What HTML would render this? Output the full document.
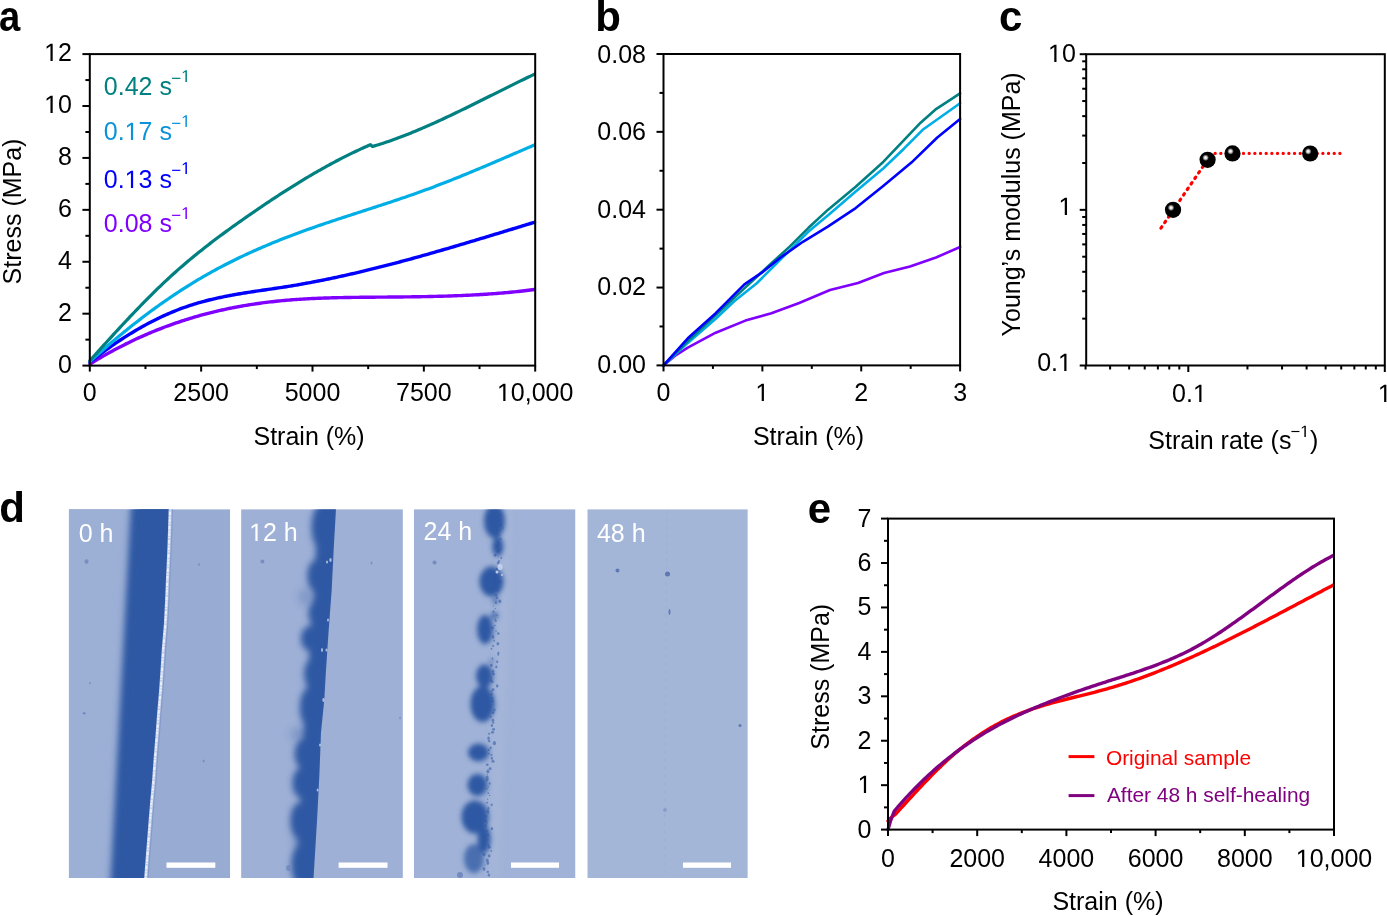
<!DOCTYPE html>
<html><head><meta charset="utf-8"><style>
html,body{margin:0;padding:0;background:#fff;width:1387px;height:916px;overflow:hidden}
svg{display:block;will-change:transform}
text{font-family:"Liberation Sans", sans-serif}
</style></head><body>
<svg width="1387" height="916" viewBox="0 0 1387 916" font-family='"Liberation Sans", sans-serif'>
<rect width="100%" height="100%" fill="#fff"/>
<text transform="translate(-0.9,31.0) scale(0.91,1)" font-size="42" font-weight="bold">a</text>
<text x="595.30" y="31.00" font-size="42" text-anchor="start" fill="#000" font-weight="bold" >b</text>
<text x="999.10" y="30.80" font-size="42" text-anchor="start" fill="#000" font-weight="bold" >c</text>
<text x="-0.80" y="522.30" font-size="42" text-anchor="start" fill="#000" font-weight="bold" >d</text>
<text x="807.80" y="522.50" font-size="42" text-anchor="start" fill="#000" font-weight="bold" >e</text>
<path d="M90.00,364.02 L92.00,362.78 L94.00,361.55 L96.01,360.35 L98.01,359.15 L100.01,357.97 L102.01,356.81 L104.02,355.65 L106.02,354.52 L108.02,353.39 L110.02,352.28 L112.02,351.19 L114.03,350.10 L116.03,349.03 L118.03,347.98 L120.03,346.94 L122.04,345.91 L124.04,344.89 L126.04,343.89 L128.04,342.90 L130.05,341.93 L132.05,340.96 L134.05,340.02 L136.05,339.08 L138.05,338.16 L140.06,337.24 L142.06,336.35 L144.06,335.46 L146.06,334.59 L148.07,333.73 L150.07,332.88 L152.07,332.04 L154.07,331.22 L156.07,330.41 L158.08,329.61 L160.08,328.82 L162.08,328.05 L164.08,327.28 L166.09,326.53 L168.09,325.79 L170.09,325.06 L172.09,324.35 L174.09,323.64 L176.10,322.95 L178.10,322.27 L180.10,321.60 L182.10,320.94 L184.11,320.29 L186.11,319.65 L188.11,319.02 L190.11,318.41 L192.11,317.80 L194.12,317.21 L196.12,316.63 L198.12,316.06 L200.12,315.49 L202.13,314.94 L204.13,314.40 L206.13,313.87 L208.13,313.35 L210.14,312.84 L212.14,312.34 L214.14,311.85 L216.14,311.37 L218.14,310.90 L220.15,310.44 L222.15,309.99 L224.15,309.55 L226.15,309.12 L228.16,308.70 L230.16,308.29 L232.16,307.89 L234.16,307.49 L236.16,307.11 L238.17,306.73 L240.17,306.37 L242.17,306.01 L244.17,305.66 L246.18,305.33 L248.18,305.00 L250.18,304.67 L252.18,304.36 L254.18,304.06 L256.19,303.76 L258.19,303.48 L260.19,303.20 L262.19,302.93 L264.20,302.67 L266.20,302.41 L268.20,302.17 L270.20,301.93 L272.20,301.70 L274.21,301.48 L276.21,301.27 L278.21,301.06 L280.21,300.86 L282.22,300.67 L284.22,300.48 L286.22,300.31 L288.22,300.14 L290.23,299.97 L292.23,299.82 L294.23,299.66 L296.23,299.52 L298.23,299.38 L300.24,299.25 L302.24,299.12 L304.24,299.00 L306.24,298.89 L308.25,298.78 L310.25,298.67 L312.25,298.57 L314.25,298.48 L316.25,298.39 L318.26,298.30 L320.26,298.22 L322.26,298.14 L324.26,298.07 L326.27,298.00 L328.27,297.94 L330.27,297.88 L332.27,297.82 L334.27,297.76 L336.28,297.71 L338.28,297.67 L340.28,297.62 L342.28,297.58 L344.29,297.54 L346.29,297.51 L348.29,297.47 L350.29,297.44 L352.30,297.41 L354.30,297.38 L356.30,297.36 L358.30,297.33 L360.30,297.31 L362.31,297.29 L364.31,297.27 L366.31,297.25 L368.31,297.23 L370.32,297.22 L372.32,297.20 L374.32,297.18 L376.32,297.17 L378.32,297.15 L380.33,297.14 L382.33,297.12 L384.33,297.10 L386.33,297.09 L388.34,297.07 L390.34,297.05 L392.34,297.04 L394.34,297.02 L396.34,297.00 L398.35,296.98 L400.35,296.96 L402.35,296.94 L404.35,296.92 L406.36,296.90 L408.36,296.87 L410.36,296.85 L412.36,296.82 L414.36,296.79 L416.37,296.76 L418.37,296.73 L420.37,296.70 L422.37,296.66 L424.38,296.63 L426.38,296.59 L428.38,296.55 L430.38,296.51 L432.39,296.46 L434.39,296.42 L436.39,296.37 L438.39,296.32 L440.39,296.26 L442.40,296.21 L444.40,296.15 L446.40,296.09 L448.40,296.02 L450.41,295.96 L452.41,295.89 L454.41,295.81 L456.41,295.74 L458.41,295.66 L460.42,295.58 L462.42,295.49 L464.42,295.40 L466.42,295.31 L468.43,295.22 L470.43,295.12 L472.43,295.01 L474.43,294.91 L476.43,294.80 L478.44,294.68 L480.44,294.56 L482.44,294.44 L484.44,294.31 L486.45,294.18 L488.45,294.05 L490.45,293.91 L492.45,293.76 L494.45,293.62 L496.46,293.46 L498.46,293.30 L500.46,293.14 L502.46,292.97 L504.47,292.80 L506.47,292.62 L508.47,292.44 L510.47,292.25 L512.48,292.06 L514.48,291.86 L516.48,291.65 L518.48,291.44 L520.48,291.23 L522.49,291.01 L524.49,290.78 L526.49,290.55 L528.49,290.31 L530.50,290.06 L532.50,289.81 L534.50,289.55" fill="none" stroke="#8000ff" stroke-width="3.4" stroke-linejoin="round" stroke-linecap="round"/>
<path d="M90.00,361.99 L92.00,360.43 L94.00,358.88 L96.01,357.35 L98.01,355.84 L100.01,354.34 L102.01,352.86 L104.02,351.39 L106.02,349.94 L108.02,348.51 L110.02,347.10 L112.02,345.70 L114.03,344.32 L116.03,342.96 L118.03,341.61 L120.03,340.28 L122.04,338.97 L124.04,337.68 L126.04,336.40 L128.04,335.14 L130.05,333.90 L132.05,332.68 L134.05,331.48 L136.05,330.29 L138.05,329.12 L140.06,327.97 L142.06,326.84 L144.06,325.73 L146.06,324.63 L148.07,323.56 L150.07,322.50 L152.07,321.46 L154.07,320.44 L156.07,319.44 L158.08,318.46 L160.08,317.50 L162.08,316.56 L164.08,315.63 L166.09,314.73 L168.09,313.85 L170.09,312.98 L172.09,312.14 L174.09,311.31 L176.10,310.51 L178.10,309.72 L180.10,308.96 L182.10,308.21 L184.11,307.49 L186.11,306.79 L188.11,306.10 L190.11,305.44 L192.11,304.79 L194.12,304.17 L196.12,303.56 L198.12,302.97 L200.12,302.39 L202.13,301.83 L204.13,301.29 L206.13,300.77 L208.13,300.25 L210.14,299.76 L212.14,299.28 L214.14,298.81 L216.14,298.35 L218.14,297.91 L220.15,297.47 L222.15,297.05 L224.15,296.64 L226.15,296.25 L228.16,295.86 L230.16,295.48 L232.16,295.11 L234.16,294.75 L236.16,294.39 L238.17,294.05 L240.17,293.71 L242.17,293.38 L244.17,293.05 L246.18,292.73 L248.18,292.41 L250.18,292.10 L252.18,291.79 L254.18,291.49 L256.19,291.19 L258.19,290.89 L260.19,290.60 L262.19,290.30 L264.20,290.01 L266.20,289.72 L268.20,289.42 L270.20,289.13 L272.20,288.83 L274.21,288.54 L276.21,288.24 L278.21,287.94 L280.21,287.64 L282.22,287.33 L284.22,287.02 L286.22,286.71 L288.22,286.39 L290.23,286.06 L292.23,285.73 L294.23,285.40 L296.23,285.06 L298.23,284.72 L300.24,284.37 L302.24,284.01 L304.24,283.66 L306.24,283.29 L308.25,282.92 L310.25,282.55 L312.25,282.17 L314.25,281.79 L316.25,281.41 L318.26,281.02 L320.26,280.62 L322.26,280.22 L324.26,279.82 L326.27,279.41 L328.27,279.00 L330.27,278.58 L332.27,278.16 L334.27,277.74 L336.28,277.31 L338.28,276.88 L340.28,276.44 L342.28,276.00 L344.29,275.56 L346.29,275.11 L348.29,274.66 L350.29,274.21 L352.30,273.75 L354.30,273.28 L356.30,272.82 L358.30,272.35 L360.30,271.88 L362.31,271.40 L364.31,270.92 L366.31,270.44 L368.31,269.95 L370.32,269.46 L372.32,268.97 L374.32,268.47 L376.32,267.97 L378.32,267.47 L380.33,266.96 L382.33,266.45 L384.33,265.94 L386.33,265.43 L388.34,264.91 L390.34,264.39 L392.34,263.87 L394.34,263.34 L396.34,262.81 L398.35,262.28 L400.35,261.75 L402.35,261.21 L404.35,260.67 L406.36,260.13 L408.36,259.59 L410.36,259.04 L412.36,258.49 L414.36,257.94 L416.37,257.39 L418.37,256.83 L420.37,256.27 L422.37,255.71 L424.38,255.15 L426.38,254.59 L428.38,254.02 L430.38,253.45 L432.39,252.88 L434.39,252.31 L436.39,251.74 L438.39,251.16 L440.39,250.58 L442.40,250.01 L444.40,249.42 L446.40,248.84 L448.40,248.26 L450.41,247.67 L452.41,247.09 L454.41,246.50 L456.41,245.91 L458.41,245.32 L460.42,244.72 L462.42,244.13 L464.42,243.54 L466.42,242.94 L468.43,242.34 L470.43,241.74 L472.43,241.14 L474.43,240.54 L476.43,239.94 L478.44,239.34 L480.44,238.74 L482.44,238.13 L484.44,237.53 L486.45,236.92 L488.45,236.32 L490.45,235.71 L492.45,235.10 L494.45,234.49 L496.46,233.89 L498.46,233.28 L500.46,232.67 L502.46,232.06 L504.47,231.45 L506.47,230.84 L508.47,230.23 L510.47,229.61 L512.48,229.00 L514.48,228.39 L516.48,227.78 L518.48,227.17 L520.48,226.56 L522.49,225.94 L524.49,225.33 L526.49,224.72 L528.49,224.11 L530.50,223.50 L532.50,222.89 L534.50,222.28" fill="none" stroke="#0000ff" stroke-width="3.4" stroke-linejoin="round" stroke-linecap="round"/>
<path d="M90.00,361.48 L92.00,359.66 L94.00,357.85 L96.01,356.05 L98.01,354.26 L100.01,352.48 L102.01,350.72 L104.02,348.96 L106.02,347.22 L108.02,345.49 L110.02,343.77 L112.02,342.06 L114.03,340.36 L116.03,338.68 L118.03,337.00 L120.03,335.34 L122.04,333.69 L124.04,332.05 L126.04,330.42 L128.04,328.81 L130.05,327.20 L132.05,325.61 L134.05,324.03 L136.05,322.46 L138.05,320.90 L140.06,319.36 L142.06,317.82 L144.06,316.30 L146.06,314.79 L148.07,313.29 L150.07,311.80 L152.07,310.33 L154.07,308.86 L156.07,307.41 L158.08,305.97 L160.08,304.55 L162.08,303.13 L164.08,301.73 L166.09,300.34 L168.09,298.96 L170.09,297.59 L172.09,296.24 L174.09,294.89 L176.10,293.56 L178.10,292.24 L180.10,290.94 L182.10,289.64 L184.11,288.36 L186.11,287.09 L188.11,285.84 L190.11,284.59 L192.11,283.36 L194.12,282.14 L196.12,280.93 L198.12,279.73 L200.12,278.55 L202.13,277.38 L204.13,276.22 L206.13,275.08 L208.13,273.94 L210.14,272.82 L212.14,271.71 L214.14,270.61 L216.14,269.52 L218.14,268.44 L220.15,267.38 L222.15,266.32 L224.15,265.28 L226.15,264.24 L228.16,263.22 L230.16,262.21 L232.16,261.21 L234.16,260.21 L236.16,259.23 L238.17,258.26 L240.17,257.30 L242.17,256.34 L244.17,255.40 L246.18,254.46 L248.18,253.54 L250.18,252.62 L252.18,251.71 L254.18,250.81 L256.19,249.92 L258.19,249.04 L260.19,248.17 L262.19,247.30 L264.20,246.45 L266.20,245.60 L268.20,244.75 L270.20,243.92 L272.20,243.09 L274.21,242.27 L276.21,241.46 L278.21,240.66 L280.21,239.86 L282.22,239.07 L284.22,238.28 L286.22,237.50 L288.22,236.73 L290.23,235.97 L292.23,235.21 L294.23,234.45 L296.23,233.70 L298.23,232.96 L300.24,232.23 L302.24,231.49 L304.24,230.77 L306.24,230.05 L308.25,229.33 L310.25,228.62 L312.25,227.91 L314.25,227.21 L316.25,226.51 L318.26,225.82 L320.26,225.13 L322.26,224.45 L324.26,223.76 L326.27,223.09 L328.27,222.41 L330.27,221.74 L332.27,221.07 L334.27,220.40 L336.28,219.74 L338.28,219.08 L340.28,218.42 L342.28,217.76 L344.29,217.11 L346.29,216.46 L348.29,215.81 L350.29,215.16 L352.30,214.51 L354.30,213.86 L356.30,213.21 L358.30,212.56 L360.30,211.92 L362.31,211.27 L364.31,210.63 L366.31,209.98 L368.31,209.33 L370.32,208.69 L372.32,208.04 L374.32,207.39 L376.32,206.74 L378.32,206.09 L380.33,205.44 L382.33,204.78 L384.33,204.13 L386.33,203.47 L388.34,202.81 L390.34,202.15 L392.34,201.48 L394.34,200.81 L396.34,200.14 L398.35,199.47 L400.35,198.79 L402.35,198.11 L404.35,197.43 L406.36,196.74 L408.36,196.05 L410.36,195.36 L412.36,194.66 L414.36,193.95 L416.37,193.24 L418.37,192.53 L420.37,191.81 L422.37,191.08 L424.38,190.35 L426.38,189.62 L428.38,188.88 L430.38,188.13 L432.39,187.38 L434.39,186.63 L436.39,185.87 L438.39,185.10 L440.39,184.33 L442.40,183.56 L444.40,182.78 L446.40,182.00 L448.40,181.21 L450.41,180.42 L452.41,179.62 L454.41,178.82 L456.41,178.02 L458.41,177.21 L460.42,176.40 L462.42,175.59 L464.42,174.77 L466.42,173.95 L468.43,173.13 L470.43,172.30 L472.43,171.47 L474.43,170.64 L476.43,169.81 L478.44,168.97 L480.44,168.13 L482.44,167.29 L484.44,166.45 L486.45,165.60 L488.45,164.75 L490.45,163.90 L492.45,163.05 L494.45,162.19 L496.46,161.34 L498.46,160.48 L500.46,159.62 L502.46,158.76 L504.47,157.90 L506.47,157.04 L508.47,156.18 L510.47,155.32 L512.48,154.45 L514.48,153.59 L516.48,152.72 L518.48,151.86 L520.48,150.99 L522.49,150.12 L524.49,149.26 L526.49,148.39 L528.49,147.52 L530.50,146.66 L532.50,145.79 L534.50,144.93" fill="none" stroke="#00aee6" stroke-width="3.2" stroke-linejoin="round" stroke-linecap="round"/>
<path d="M90.00,360.49 L92.00,358.26 L94.01,356.03 L96.01,353.81 L98.01,351.59 L100.02,349.37 L102.02,347.15 L104.03,344.94 L106.03,342.73 L108.03,340.53 L110.04,338.33 L112.04,336.14 L114.04,333.95 L116.05,331.77 L118.05,329.60 L120.05,327.43 L122.06,325.27 L124.06,323.12 L126.06,320.98 L128.07,318.85 L130.07,316.72 L132.07,314.61 L134.08,312.50 L136.08,310.41 L138.09,308.33 L140.09,306.26 L142.09,304.20 L144.10,302.15 L146.10,300.12 L148.10,298.10 L150.11,296.09 L152.11,294.10 L154.11,292.12 L156.12,290.15 L158.12,288.21 L160.12,286.28 L162.13,284.36 L164.13,282.46 L166.14,280.58 L168.14,278.72 L170.14,276.87 L172.15,275.05 L174.15,273.24 L176.15,271.45 L178.16,269.67 L180.16,267.92 L182.16,266.18 L184.17,264.46 L186.17,262.75 L188.18,261.06 L190.18,259.38 L192.18,257.72 L194.19,256.08 L196.19,254.45 L198.19,252.83 L200.20,251.22 L202.20,249.63 L204.20,248.05 L206.21,246.48 L208.21,244.93 L210.21,243.39 L212.22,241.85 L214.22,240.33 L216.22,238.82 L218.23,237.32 L220.23,235.83 L222.24,234.35 L224.24,232.87 L226.24,231.41 L228.25,229.95 L230.25,228.50 L232.25,227.06 L234.26,225.62 L236.26,224.20 L238.26,222.77 L240.27,221.36 L242.27,219.95 L244.28,218.54 L246.28,217.14 L248.28,215.75 L250.29,214.36 L252.29,212.97 L254.29,211.59 L256.30,210.22 L258.30,208.85 L260.30,207.48 L262.31,206.12 L264.31,204.77 L266.31,203.43 L268.32,202.09 L270.32,200.75 L272.32,199.42 L274.33,198.10 L276.33,196.79 L278.34,195.48 L280.34,194.18 L282.34,192.89 L284.35,191.60 L286.35,190.32 L288.35,189.05 L290.36,187.78 L292.36,186.53 L294.36,185.28 L296.37,184.03 L298.37,182.80 L300.38,181.57 L302.38,180.36 L304.38,179.15 L306.39,177.95 L308.39,176.75 L310.39,175.57 L312.40,174.40 L314.40,173.23 L316.40,172.07 L318.41,170.93 L320.41,169.79 L322.41,168.66 L324.42,167.54 L326.42,166.43 L328.43,165.33 L330.43,164.24 L332.43,163.16 L334.44,162.09 L336.44,161.03 L338.44,159.98 L340.45,158.94 L342.45,157.91 L344.45,156.89 L346.46,155.89 L348.46,154.89 L350.46,153.90 L352.47,152.93 L354.47,151.97 L356.48,151.02 L358.48,150.08 L360.48,149.15 L362.49,148.24 L364.49,147.33 L366.49,146.44 L368.50,145.56 L370.50,144.69 L372.50,146.50 L374.50,145.90 L376.50,145.30 L378.50,144.68 L380.50,144.05 L382.50,143.40 L384.50,142.74 L386.50,142.07 L388.50,141.39 L390.50,140.69 L392.50,139.99 L394.50,139.27 L396.50,138.54 L398.50,137.80 L400.50,137.05 L402.50,136.29 L404.50,135.51 L406.50,134.73 L408.50,133.94 L410.50,133.14 L412.50,132.33 L414.50,131.51 L416.50,130.68 L418.50,129.84 L420.50,128.99 L422.50,128.14 L424.50,127.27 L426.50,126.40 L428.50,125.53 L430.50,124.64 L432.50,123.75 L434.50,122.85 L436.50,121.94 L438.50,121.03 L440.50,120.11 L442.50,119.18 L444.50,118.25 L446.50,117.32 L448.50,116.38 L450.50,115.43 L452.50,114.48 L454.50,113.52 L456.50,112.56 L458.50,111.60 L460.50,110.63 L462.50,109.66 L464.50,108.69 L466.50,107.71 L468.50,106.73 L470.50,105.74 L472.50,104.76 L474.50,103.77 L476.50,102.78 L478.50,101.78 L480.50,100.79 L482.50,99.79 L484.50,98.80 L486.50,97.80 L488.50,96.80 L490.50,95.80 L492.50,94.81 L494.50,93.81 L496.50,92.81 L498.50,91.81 L500.50,90.81 L502.50,89.82 L504.50,88.82 L506.50,87.83 L508.50,86.84 L510.50,85.85 L512.50,84.86 L514.50,83.87 L516.50,82.89 L518.50,81.91 L520.50,80.93 L522.50,79.96 L524.50,78.99 L526.50,78.02 L528.50,77.06 L530.50,76.10 L532.50,75.15 L534.50,74.20" fill="none" stroke="#008080" stroke-width="3.2" stroke-linejoin="round" stroke-linecap="round"/>
<rect x="89.80" y="54.10" width="445.40" height="311.50" fill="none" stroke="#000" stroke-width="2.0"/>
<line x1="82.40" y1="365.60" x2="89.80" y2="365.60" stroke="#000" stroke-width="2" />
<text x="72.00" y="372.90" font-size="25" text-anchor="end" fill="#000" font-weight="normal" >0</text>
<line x1="85.40" y1="339.64" x2="89.80" y2="339.64" stroke="#000" stroke-width="2" />
<line x1="82.40" y1="313.68" x2="89.80" y2="313.68" stroke="#000" stroke-width="2" />
<text x="72.00" y="320.98" font-size="25" text-anchor="end" fill="#000" font-weight="normal" >2</text>
<line x1="85.40" y1="287.73" x2="89.80" y2="287.73" stroke="#000" stroke-width="2" />
<line x1="82.40" y1="261.77" x2="89.80" y2="261.77" stroke="#000" stroke-width="2" />
<text x="72.00" y="269.07" font-size="25" text-anchor="end" fill="#000" font-weight="normal" >4</text>
<line x1="85.40" y1="235.81" x2="89.80" y2="235.81" stroke="#000" stroke-width="2" />
<line x1="82.40" y1="209.85" x2="89.80" y2="209.85" stroke="#000" stroke-width="2" />
<text x="72.00" y="217.15" font-size="25" text-anchor="end" fill="#000" font-weight="normal" >6</text>
<line x1="85.40" y1="183.89" x2="89.80" y2="183.89" stroke="#000" stroke-width="2" />
<line x1="82.40" y1="157.93" x2="89.80" y2="157.93" stroke="#000" stroke-width="2" />
<text x="72.00" y="165.23" font-size="25" text-anchor="end" fill="#000" font-weight="normal" >8</text>
<line x1="85.40" y1="131.98" x2="89.80" y2="131.98" stroke="#000" stroke-width="2" />
<line x1="82.40" y1="106.02" x2="89.80" y2="106.02" stroke="#000" stroke-width="2" />
<text x="72.00" y="113.32" font-size="25" text-anchor="end" fill="#000" font-weight="normal" > 0</text>
<line x1="85.40" y1="80.06" x2="89.80" y2="80.06" stroke="#000" stroke-width="2" />
<line x1="82.40" y1="54.10" x2="89.80" y2="54.10" stroke="#000" stroke-width="2" />
<text x="72.00" y="61.40" font-size="25" text-anchor="end" fill="#000" font-weight="normal" > 2</text>
<line x1="89.80" y1="365.60" x2="89.80" y2="371.60" stroke="#000" stroke-width="2" />
<text x="89.80" y="401.40" font-size="25" text-anchor="middle" fill="#000" font-weight="normal" >0</text>
<line x1="145.47" y1="365.60" x2="145.47" y2="369.10" stroke="#000" stroke-width="2" />
<line x1="201.15" y1="365.60" x2="201.15" y2="371.60" stroke="#000" stroke-width="2" />
<text x="201.15" y="401.40" font-size="25" text-anchor="middle" fill="#000" font-weight="normal" >2500</text>
<line x1="256.82" y1="365.60" x2="256.82" y2="369.10" stroke="#000" stroke-width="2" />
<line x1="312.50" y1="365.60" x2="312.50" y2="371.60" stroke="#000" stroke-width="2" />
<text x="312.50" y="401.40" font-size="25" text-anchor="middle" fill="#000" font-weight="normal" >5000</text>
<line x1="368.18" y1="365.60" x2="368.18" y2="369.10" stroke="#000" stroke-width="2" />
<line x1="423.85" y1="365.60" x2="423.85" y2="371.60" stroke="#000" stroke-width="2" />
<text x="423.85" y="401.40" font-size="25" text-anchor="middle" fill="#000" font-weight="normal" >7500</text>
<line x1="479.53" y1="365.60" x2="479.53" y2="369.10" stroke="#000" stroke-width="2" />
<line x1="535.20" y1="365.60" x2="535.20" y2="371.60" stroke="#000" stroke-width="2" />
<text x="535.20" y="401.40" font-size="25" text-anchor="middle" fill="#000" font-weight="normal" > 0,000</text>
<text x="253.50" y="444.60" font-size="25" text-anchor="start" fill="#000" font-weight="normal" >Strain (%)</text>
<text transform="translate(20.6,284.4) rotate(-90)" font-size="25">Stress (MPa)</text>
<text x="103.80" y="95.30" font-size="25" text-anchor="start" fill="#008080" font-weight="normal" >0.42 s</text>
<text x="171.20" y="83.50" font-size="17" text-anchor="start" fill="#008080" font-weight="normal" >−</text>
<text x="181.13" y="82.30" font-size="17" text-anchor="start" fill="#008080" font-weight="normal" > </text>
<text x="103.80" y="140.30" font-size="25" text-anchor="start" fill="#0a93d8" font-weight="normal" >0. 7 s</text>
<text x="171.20" y="128.50" font-size="17" text-anchor="start" fill="#0a93d8" font-weight="normal" >−</text>
<text x="181.13" y="127.30" font-size="17" text-anchor="start" fill="#0a93d8" font-weight="normal" > </text>
<text x="103.80" y="187.50" font-size="25" text-anchor="start" fill="#0000ff" font-weight="normal" >0. 3 s</text>
<text x="171.20" y="175.70" font-size="17" text-anchor="start" fill="#0000ff" font-weight="normal" >−</text>
<text x="181.13" y="174.50" font-size="17" text-anchor="start" fill="#0000ff" font-weight="normal" > </text>
<text x="103.80" y="232.40" font-size="25" text-anchor="start" fill="#8000ff" font-weight="normal" >0.08 s</text>
<text x="171.20" y="220.60" font-size="17" text-anchor="start" fill="#8000ff" font-weight="normal" >−</text>
<text x="181.13" y="219.40" font-size="17" text-anchor="start" fill="#8000ff" font-weight="normal" > </text>
<polyline points="663.50,365.40 674.80,356.00 687.80,347.60 715.70,332.70 745.40,320.60 771.40,313.20 799.20,303.00 830.00,290.00 858.00,283.00 884.00,273.00 910.00,266.50 936.00,257.50 960.10,247.00" fill="none" stroke="#8000ff" stroke-width="2.6" stroke-linejoin="round" stroke-linecap="round" />
<polyline points="663.50,365.40 687.80,342.90 715.70,318.80 734.20,301.20 756.50,283.50 771.40,268.70 789.90,250.10 808.50,231.60 827.80,215.50 855.70,191.40 883.50,168.20 903.90,148.70 923.40,129.20 960.10,103.20" fill="none" stroke="#00aee6" stroke-width="2.6" stroke-linejoin="round" stroke-linecap="round" />
<polyline points="663.50,365.40 687.80,341.00 715.70,315.10 743.50,289.10 767.60,266.80 789.90,246.40 808.50,227.80 827.80,209.90 855.70,186.70 883.50,161.70 920.60,122.70 936.40,108.80 960.10,93.40" fill="none" stroke="#008080" stroke-width="2.6" stroke-linejoin="round" stroke-linecap="round" />
<polyline points="663.50,365.40 687.80,338.30 715.70,313.20 744.40,284.40 762.10,272.40 780.60,257.50 802.90,241.80 827.80,226.60 855.70,208.10 883.50,185.80 911.40,162.60 937.30,137.50 960.10,119.00" fill="none" stroke="#0000ff" stroke-width="2.6" stroke-linejoin="round" stroke-linecap="round" />
<rect x="663.50" y="54.00" width="296.60" height="311.40" fill="none" stroke="#000" stroke-width="2.0"/>
<line x1="656.50" y1="365.40" x2="663.50" y2="365.40" stroke="#000" stroke-width="2" />
<text x="646.00" y="373.00" font-size="25" text-anchor="end" fill="#000" font-weight="normal" >0.00</text>
<line x1="659.50" y1="326.47" x2="663.50" y2="326.47" stroke="#000" stroke-width="2" />
<line x1="656.50" y1="287.55" x2="663.50" y2="287.55" stroke="#000" stroke-width="2" />
<text x="646.00" y="295.10" font-size="25" text-anchor="end" fill="#000" font-weight="normal" >0.02</text>
<line x1="659.50" y1="248.62" x2="663.50" y2="248.62" stroke="#000" stroke-width="2" />
<line x1="656.50" y1="209.70" x2="663.50" y2="209.70" stroke="#000" stroke-width="2" />
<text x="646.00" y="217.80" font-size="25" text-anchor="end" fill="#000" font-weight="normal" >0.04</text>
<line x1="659.50" y1="170.77" x2="663.50" y2="170.77" stroke="#000" stroke-width="2" />
<line x1="656.50" y1="131.85" x2="663.50" y2="131.85" stroke="#000" stroke-width="2" />
<text x="646.00" y="140.30" font-size="25" text-anchor="end" fill="#000" font-weight="normal" >0.06</text>
<line x1="659.50" y1="92.92" x2="663.50" y2="92.92" stroke="#000" stroke-width="2" />
<line x1="656.50" y1="54.00" x2="663.50" y2="54.00" stroke="#000" stroke-width="2" />
<text x="646.00" y="62.80" font-size="25" text-anchor="end" fill="#000" font-weight="normal" >0.08</text>
<line x1="663.50" y1="365.40" x2="663.50" y2="371.40" stroke="#000" stroke-width="2" />
<text x="663.50" y="401.20" font-size="25" text-anchor="middle" fill="#000" font-weight="normal" >0</text>
<line x1="712.93" y1="365.40" x2="712.93" y2="368.90" stroke="#000" stroke-width="2" />
<line x1="762.37" y1="365.40" x2="762.37" y2="371.40" stroke="#000" stroke-width="2" />
<text x="762.37" y="401.20" font-size="25" text-anchor="middle" fill="#000" font-weight="normal" > </text>
<line x1="811.80" y1="365.40" x2="811.80" y2="368.90" stroke="#000" stroke-width="2" />
<line x1="861.23" y1="365.40" x2="861.23" y2="371.40" stroke="#000" stroke-width="2" />
<text x="861.23" y="401.20" font-size="25" text-anchor="middle" fill="#000" font-weight="normal" >2</text>
<line x1="910.67" y1="365.40" x2="910.67" y2="368.90" stroke="#000" stroke-width="2" />
<line x1="960.10" y1="365.40" x2="960.10" y2="371.40" stroke="#000" stroke-width="2" />
<text x="960.10" y="401.20" font-size="25" text-anchor="middle" fill="#000" font-weight="normal" >3</text>
<text x="752.90" y="444.60" font-size="25" text-anchor="start" fill="#000" font-weight="normal" >Strain (%)</text>
<line x1="1207.6" y1="159.8" x2="1159.3" y2="230.5" stroke="#ff0000" stroke-width="3.2" stroke-linecap="round" stroke-dasharray="1.6 5.08" stroke-dashoffset="5.7"/>
<line x1="1215.15" y1="153.4" x2="1341" y2="153.4" stroke="#ff0000" stroke-width="3.3" stroke-linecap="round" stroke-dasharray="0.01 5.66"/>
<rect x="1086.20" y="54.20" width="298.60" height="311.30" fill="none" stroke="#000" stroke-width="2.0"/>
<line x1="1079.70" y1="365.50" x2="1086.20" y2="365.50" stroke="#000" stroke-width="2" />
<line x1="1082.20" y1="318.64" x2="1086.20" y2="318.64" stroke="#000" stroke-width="2" />
<line x1="1082.20" y1="291.24" x2="1086.20" y2="291.24" stroke="#000" stroke-width="2" />
<line x1="1082.20" y1="271.79" x2="1086.20" y2="271.79" stroke="#000" stroke-width="2" />
<line x1="1082.20" y1="256.71" x2="1086.20" y2="256.71" stroke="#000" stroke-width="2" />
<line x1="1082.20" y1="244.38" x2="1086.20" y2="244.38" stroke="#000" stroke-width="2" />
<line x1="1082.20" y1="233.96" x2="1086.20" y2="233.96" stroke="#000" stroke-width="2" />
<line x1="1082.20" y1="224.93" x2="1086.20" y2="224.93" stroke="#000" stroke-width="2" />
<line x1="1082.20" y1="216.97" x2="1086.20" y2="216.97" stroke="#000" stroke-width="2" />
<line x1="1079.70" y1="209.85" x2="1086.20" y2="209.85" stroke="#000" stroke-width="2" />
<line x1="1082.20" y1="162.99" x2="1086.20" y2="162.99" stroke="#000" stroke-width="2" />
<line x1="1082.20" y1="135.59" x2="1086.20" y2="135.59" stroke="#000" stroke-width="2" />
<line x1="1082.20" y1="116.14" x2="1086.20" y2="116.14" stroke="#000" stroke-width="2" />
<line x1="1082.20" y1="101.06" x2="1086.20" y2="101.06" stroke="#000" stroke-width="2" />
<line x1="1082.20" y1="88.73" x2="1086.20" y2="88.73" stroke="#000" stroke-width="2" />
<line x1="1082.20" y1="78.31" x2="1086.20" y2="78.31" stroke="#000" stroke-width="2" />
<line x1="1082.20" y1="69.28" x2="1086.20" y2="69.28" stroke="#000" stroke-width="2" />
<line x1="1082.20" y1="61.32" x2="1086.20" y2="61.32" stroke="#000" stroke-width="2" />
<line x1="1079.70" y1="54.20" x2="1086.20" y2="54.20" stroke="#000" stroke-width="2" />
<text x="1075.80" y="62.20" font-size="25" text-anchor="end" fill="#000" font-weight="normal" > 0</text>
<text x="1072.40" y="214.60" font-size="25" text-anchor="end" fill="#000" font-weight="normal" > </text>
<text x="1071.90" y="370.60" font-size="25" text-anchor="end" fill="#000" font-weight="normal" >0. </text>
<line x1="1085.55" y1="365.50" x2="1085.55" y2="369.50" stroke="#000" stroke-width="2" />
<line x1="1110.10" y1="365.50" x2="1110.10" y2="369.50" stroke="#000" stroke-width="2" />
<line x1="1129.15" y1="365.50" x2="1129.15" y2="369.50" stroke="#000" stroke-width="2" />
<line x1="1144.71" y1="365.50" x2="1144.71" y2="369.50" stroke="#000" stroke-width="2" />
<line x1="1157.86" y1="365.50" x2="1157.86" y2="369.50" stroke="#000" stroke-width="2" />
<line x1="1169.26" y1="365.50" x2="1169.26" y2="369.50" stroke="#000" stroke-width="2" />
<line x1="1179.31" y1="365.50" x2="1179.31" y2="369.50" stroke="#000" stroke-width="2" />
<line x1="1188.30" y1="365.50" x2="1188.30" y2="372.00" stroke="#000" stroke-width="2" />
<line x1="1247.45" y1="365.50" x2="1247.45" y2="369.50" stroke="#000" stroke-width="2" />
<line x1="1282.05" y1="365.50" x2="1282.05" y2="369.50" stroke="#000" stroke-width="2" />
<line x1="1306.60" y1="365.50" x2="1306.60" y2="369.50" stroke="#000" stroke-width="2" />
<line x1="1325.65" y1="365.50" x2="1325.65" y2="369.50" stroke="#000" stroke-width="2" />
<line x1="1341.21" y1="365.50" x2="1341.21" y2="369.50" stroke="#000" stroke-width="2" />
<line x1="1354.36" y1="365.50" x2="1354.36" y2="369.50" stroke="#000" stroke-width="2" />
<line x1="1365.76" y1="365.50" x2="1365.76" y2="369.50" stroke="#000" stroke-width="2" />
<line x1="1375.81" y1="365.50" x2="1375.81" y2="369.50" stroke="#000" stroke-width="2" />
<line x1="1384.80" y1="365.50" x2="1384.80" y2="372.00" stroke="#000" stroke-width="2" />
<text x="1189.50" y="401.60" font-size="25" text-anchor="middle" fill="#000" font-weight="normal" >0. </text>
<text x="1384.80" y="401.60" font-size="25" text-anchor="middle" fill="#000" font-weight="normal" > </text>
<text x="1148.30" y="448.60" font-size="25" text-anchor="start" fill="#000" font-weight="normal" >Strain rate (s</text>
<text x="1290.60" y="437.00" font-size="16.5" text-anchor="start" fill="#000" font-weight="normal" >− </text>
<text x="1309.90" y="448.60" font-size="25" text-anchor="start" fill="#000" font-weight="normal" >)</text>
<text transform="translate(1020.4,336.4) rotate(-90)" font-size="25">Young’s modulus (MPa)</text>
<defs>
<radialGradient id="hl" cx="0.5" cy="0.5" r="0.5">
<stop offset="0" stop-color="#ffffff"/>
<stop offset="0.25" stop-color="#f0f0f0"/>
<stop offset="0.55" stop-color="#9a9a9a"/>
<stop offset="0.8" stop-color="#303030"/>
<stop offset="1" stop-color="#000000" stop-opacity="0"/>
</radialGradient>
<filter id="blur3" x="-50%" y="-50%" width="200%" height="200%"><feGaussianBlur stdDeviation="3"/></filter>
<filter id="blur2" x="-50%" y="-50%" width="200%" height="200%"><feGaussianBlur stdDeviation="2"/></filter>
<filter id="blur1" x="-50%" y="-50%" width="200%" height="200%"><feGaussianBlur stdDeviation="1"/></filter>
</defs>
<circle cx="1173.05" cy="209.8" r="8.1" fill="#000"/>
<circle cx="1171.05" cy="207.70" r="3.6" fill="url(#hl)"/>
<circle cx="1207.6" cy="159.8" r="8.1" fill="#000"/>
<circle cx="1205.60" cy="157.70" r="3.6" fill="url(#hl)"/>
<circle cx="1232.5" cy="153.4" r="8.1" fill="#000"/>
<circle cx="1230.50" cy="151.30" r="3.6" fill="url(#hl)"/>
<circle cx="1310.2" cy="153.5" r="8.1" fill="#000"/>
<circle cx="1308.20" cy="151.40" r="3.6" fill="url(#hl)"/>
<defs><filter id="b25" x="-60%" y="-60%" width="220%" height="220%"><feGaussianBlur stdDeviation="2.6"/></filter><filter id="b15" x="-60%" y="-60%" width="220%" height="220%"><feGaussianBlur stdDeviation="1.5"/></filter><filter id="b4" x="-60%" y="-60%" width="220%" height="220%"><feGaussianBlur stdDeviation="4"/></filter><filter id="b3" x="-60%" y="-60%" width="220%" height="220%"><feGaussianBlur stdDeviation="3"/></filter><filter id="b07" x="-60%" y="-60%" width="220%" height="220%"><feGaussianBlur stdDeviation="0.7"/></filter></defs>
<clipPath id="clip0"><rect x="68.9" y="509.2" width="161.30" height="368.90"/></clipPath>
<g clip-path="url(#clip0)">
<rect x="68.9" y="509.2" width="161.30" height="368.90" fill="#98acd3"/>
<polygon points="60,500 128,500 108,890 60,890" fill="#9cafd5" filter="url(#b4)"/>
<clipPath id="c0r"><polygon points="60,500 170.2,505 169.5,530 168.6,555 167.4,580 166.6,600 165.3,625 163.2,650 162.0,670 160.6,690 158.5,715 157.0,735 155.2,757 153.6,780 151.8,800 150.3,818 148.6,840 147.0,860 145.5,880 60,890"/></clipPath>
<g clip-path="url(#c0r)"><polygon points="131.5,495 185,495 165,890 110,890" fill="#2f58a3" filter="url(#b3)"/><polygon points="140,495 185,495 165,890 121,890" fill="#2f58a3" filter="url(#b15)"/></g>
<polyline points="172.6,505 171.9,530 171.0,555 169.8,580 169.0,600 167.70000000000002,625 165.6,650 164.4,670 163.0,690 160.9,715 159.4,735 157.6,757 156.0,780 154.20000000000002,800 152.70000000000002,818 151.0,840 149.4,860 147.9,880" fill="none" stroke="#7f96c7" stroke-width="1.1" opacity="0.8"/>
<polyline points="170.2,505 169.5,530 168.6,555 167.4,580 166.6,600 165.3,625 163.2,650 162.0,670 160.6,690 158.5,715 157.0,735 155.2,757 153.6,780 151.8,800 150.3,818 148.6,840 147.0,860 145.5,880" fill="none" stroke="#c2cfeb" stroke-width="3.0"/>
<polyline points="170.2,505 169.5,530 168.6,555 167.4,580 166.6,600 165.3,625 163.2,650 162.0,670 160.6,690 158.5,715 157.0,735 155.2,757 153.6,780 151.8,800 150.3,818 148.6,840 147.0,860 145.5,880" fill="none" stroke="#eef2fb" stroke-width="1.8" stroke-dasharray="2.5 1.2 1 2 3.5 1.5 1.5 1"/>
<g fill="#6f86bd" opacity="0.8"><ellipse cx="86.5" cy="561.5" rx="2" ry="2.2"/><ellipse cx="84.2" cy="713.2" rx="1.6" ry="1.2"/><ellipse cx="90" cy="683" rx="0.9" ry="0.9"/><ellipse cx="203.6" cy="761" rx="1" ry="1.5"/><ellipse cx="199" cy="564.5" rx="0.8" ry="1.5"/></g>
</g>
<clipPath id="clip1"><rect x="241.1" y="509.2" width="161.80" height="368.90"/></clipPath>
<g clip-path="url(#clip1)">
<rect x="241.1" y="509.2" width="161.80" height="368.90" fill="#9eb0d6"/>
<clipPath id="c1r"><polygon points="250,500 336.5,500 336,509 333.8,547.6 331.7,590 328.5,632.7 325.7,675.2 324.3,700 321,732.6 319.4,775.1 317.2,817.7 313.6,877.2 313.2,885 250,885"/></clipPath>
<g clip-path="url(#c1r)">
<g filter="url(#b4)" fill="#2f58a3" opacity="0.3"><ellipse cx="305" cy="597" rx="6" ry="8"/><ellipse cx="298" cy="734" rx="8" ry="6"/><ellipse cx="300" cy="842" rx="7" ry="6"/></g>
<g filter="url(#b3)" fill="#2f58a3">
<polygon points="342.5,500 342,509 339.8,547.6 337.7,590 334.5,632.7 331.7,675.2 330.3,700 327,732.6 325.4,775.1 323.2,817.7 319.6,877.2 319.2,885 295.2,885 295.6,877.2 299.2,817.7 301.4,775.1 303,732.6 306.3,700 307.7,675.2 310.5,632.7 313.7,590 315.8,547.6 318,509 318.5,500"/>
<rect x="311.5" y="505" width="27.5" height="44" rx="9.0" ry="22.0"/>
<rect x="307.2" y="560" width="29.2" height="32" rx="9.0" ry="16.0"/>
<rect x="308.3" y="600" width="25.6" height="27" rx="9.0" ry="13.5"/>
<rect x="300.9" y="626" width="31.2" height="25" rx="9.0" ry="12.5"/>
<rect x="304.0" y="658" width="25.8" height="32" rx="9.0" ry="16.0"/>
<rect x="299.8" y="688" width="27.7" height="39" rx="9.0" ry="19.5"/>
<rect x="294.5" y="739" width="29.7" height="30" rx="9.0" ry="15.0"/>
<rect x="292.3" y="768" width="30.7" height="30" rx="9.0" ry="15.0"/>
<rect x="290.2" y="803" width="30.8" height="36" rx="9.0" ry="18.0"/>
<rect x="291.3" y="845" width="27.0" height="40" rx="9.0" ry="20.0"/>
</g></g>
<g fill="#c9d5ee" opacity="0.8"><ellipse cx="330.5" cy="560" rx="1.2" ry="2"/><ellipse cx="328" cy="620" rx="1" ry="1.5"/><ellipse cx="326.5" cy="650" rx="1" ry="1.5"/><ellipse cx="323.5" cy="700" rx="1.2" ry="2"/><ellipse cx="320" cy="745" rx="1" ry="1.5"/><ellipse cx="317.6" cy="790" rx="1" ry="1.5"/><ellipse cx="327" cy="562" rx="1" ry="1.5"/><ellipse cx="322" cy="650" rx="1" ry="2"/></g>
<g fill="#6f86bd" opacity="0.8"><ellipse cx="262.4" cy="561.4" rx="2" ry="2"/><ellipse cx="371.5" cy="563" rx="0.9" ry="1.5"/><ellipse cx="289" cy="868" rx="3" ry="3"/><ellipse cx="400" cy="718" rx="0.8" ry="1.2"/></g>
</g>
<clipPath id="clip2"><rect x="413.8" y="509.2" width="161.70" height="368.90"/></clipPath>
<g clip-path="url(#clip2)">
<rect x="413.8" y="509.2" width="161.70" height="368.90" fill="#a0b2d7"/>
<polygon points="502,505 510,505 498,880 490,880" fill="#aebedd" filter="url(#b4)" opacity="0.5"/>
<g filter="url(#b25)" fill="#2f58a3">
<ellipse cx="494.5" cy="521" rx="10.5" ry="17"/>
<ellipse cx="497.8" cy="546.5" rx="5.5" ry="10"/>
<ellipse cx="491.5" cy="581.6" rx="12" ry="15"/>
<ellipse cx="495.7" cy="600.7" rx="2.6" ry="2.6"/>
<ellipse cx="494.7" cy="615.6" rx="3.2" ry="3.2"/>
<ellipse cx="485.1" cy="629.5" rx="8" ry="14.5"/>
<ellipse cx="491.5" cy="661.4" rx="1.8" ry="1.8"/>
<ellipse cx="484.5" cy="676" rx="8.5" ry="11.5"/>
<ellipse cx="482.5" cy="704" rx="12" ry="18"/>
<ellipse cx="478.5" cy="752.5" rx="10.5" ry="9"/>
<ellipse cx="477.5" cy="785" rx="10" ry="11"/>
<ellipse cx="475" cy="817" rx="13.5" ry="16.5"/>
<ellipse cx="484" cy="839" rx="6.5" ry="14"/>
<ellipse cx="474" cy="858.5" rx="10" ry="14.5" opacity="0.75"/>
</g>
<g fill="#2f58a3" opacity="0.55"><ellipse cx="498.8" cy="512.3" rx="0.75" ry="0.63"/><ellipse cx="500.3" cy="514.2" rx="0.97" ry="1.07"/><ellipse cx="496.4" cy="517.2" rx="1.03" ry="0.88"/><ellipse cx="499.2" cy="520.4" rx="1.43" ry="1.33"/><ellipse cx="500.6" cy="524.4" rx="1.55" ry="1.61"/><ellipse cx="503.1" cy="528.0" rx="0.65" ry="0.63"/><ellipse cx="496.8" cy="529.9" rx="0.72" ry="0.93"/><ellipse cx="497.0" cy="533.6" rx="1.18" ry="1.21"/><ellipse cx="499.6" cy="535.5" rx="0.66" ry="0.61"/><ellipse cx="500.5" cy="539.1" rx="1.03" ry="1.18"/><ellipse cx="498.7" cy="543.1" rx="0.9" ry="1.1"/><ellipse cx="497.0" cy="545.6" rx="1.17" ry="1.56"/><ellipse cx="500.5" cy="549.6" rx="0.89" ry="0.77"/><ellipse cx="498.1" cy="551.0" rx="1.36" ry="1.48"/><ellipse cx="495.1" cy="555.2" rx="1.27" ry="1.45"/><ellipse cx="501.3" cy="558.1" rx="0.91" ry="1.06"/><ellipse cx="498.9" cy="561.5" rx="1.06" ry="1.44"/><ellipse cx="498.0" cy="563.0" rx="1.26" ry="1.54"/><ellipse cx="499.2" cy="567.5" rx="1.59" ry="1.55"/><ellipse cx="497.1" cy="569.0" rx="1.27" ry="1.37"/><ellipse cx="495.4" cy="572.1" rx="0.72" ry="0.9"/><ellipse cx="495.0" cy="575.8" rx="0.85" ry="1.12"/><ellipse cx="494.5" cy="579.2" rx="1.05" ry="1.4"/><ellipse cx="499.9" cy="581.7" rx="1.46" ry="1.54"/><ellipse cx="496.4" cy="586.1" rx="1.48" ry="1.32"/><ellipse cx="494.9" cy="587.7" rx="0.83" ry="0.91"/><ellipse cx="497.9" cy="590.3" rx="0.86" ry="0.91"/><ellipse cx="496.1" cy="595.3" rx="1.17" ry="1.42"/><ellipse cx="497.1" cy="597.8" rx="1.22" ry="1.01"/><ellipse cx="499.9" cy="601.2" rx="1.38" ry="1.76"/><ellipse cx="495.9" cy="602.7" rx="1.0" ry="1.18"/><ellipse cx="493.4" cy="606.0" rx="0.67" ry="0.6"/><ellipse cx="495.3" cy="608.6" rx="0.65" ry="0.58"/><ellipse cx="493.4" cy="611.7" rx="0.96" ry="1.28"/><ellipse cx="497.2" cy="615.2" rx="0.75" ry="0.75"/><ellipse cx="495.2" cy="619.4" rx="0.72" ry="1.01"/><ellipse cx="495.8" cy="621.0" rx="1.08" ry="0.93"/><ellipse cx="494.8" cy="625.5" rx="0.86" ry="0.78"/><ellipse cx="492.3" cy="628.0" rx="1.55" ry="1.38"/><ellipse cx="496.1" cy="631.0" rx="0.63" ry="0.87"/><ellipse cx="498.3" cy="633.5" rx="1.3" ry="1.32"/><ellipse cx="493.0" cy="637.1" rx="1.37" ry="1.74"/><ellipse cx="494.1" cy="640.7" rx="0.82" ry="1.14"/><ellipse cx="497.9" cy="643.8" rx="1.41" ry="1.75"/><ellipse cx="493.1" cy="645.9" rx="1.12" ry="0.91"/><ellipse cx="491.5" cy="648.8" rx="0.88" ry="1.07"/><ellipse cx="498.4" cy="653.2" rx="1.05" ry="1.46"/><ellipse cx="498.2" cy="654.8" rx="0.96" ry="0.9"/><ellipse cx="492.4" cy="658.6" rx="0.8" ry="1.08"/><ellipse cx="497.2" cy="661.8" rx="1.08" ry="1.38"/><ellipse cx="491.4" cy="665.3" rx="1.26" ry="1.6"/><ellipse cx="496.3" cy="666.9" rx="1.08" ry="1.37"/><ellipse cx="493.0" cy="671.5" rx="1.4" ry="1.45"/><ellipse cx="493.4" cy="674.1" rx="1.55" ry="1.4"/><ellipse cx="491.2" cy="677.5" rx="0.75" ry="0.96"/><ellipse cx="491.3" cy="680.7" rx="1.43" ry="1.7"/><ellipse cx="492.7" cy="682.1" rx="1.15" ry="0.93"/><ellipse cx="497.2" cy="685.9" rx="1.25" ry="1.7"/><ellipse cx="493.1" cy="689.6" rx="1.47" ry="1.36"/><ellipse cx="491.6" cy="691.4" rx="0.89" ry="1.03"/><ellipse cx="491.6" cy="694.3" rx="1.02" ry="1.37"/><ellipse cx="492.2" cy="698.2" rx="1.06" ry="1.42"/><ellipse cx="492.5" cy="701.1" rx="1.52" ry="1.7"/><ellipse cx="493.2" cy="704.0" rx="0.62" ry="0.56"/><ellipse cx="489.2" cy="706.5" rx="1.4" ry="1.52"/><ellipse cx="494.5" cy="709.9" rx="1.16" ry="1.28"/><ellipse cx="493.1" cy="712.5" rx="1.38" ry="1.57"/><ellipse cx="490.7" cy="716.9" rx="0.88" ry="0.97"/><ellipse cx="492.9" cy="720.2" rx="1.36" ry="1.45"/><ellipse cx="493.2" cy="722.5" rx="1.11" ry="1.34"/><ellipse cx="491.9" cy="725.5" rx="1.13" ry="1.55"/><ellipse cx="493.6" cy="729.4" rx="1.48" ry="1.41"/><ellipse cx="492.5" cy="732.3" rx="1.54" ry="1.36"/><ellipse cx="489.1" cy="733.8" rx="1.04" ry="0.98"/><ellipse cx="488.6" cy="738.3" rx="1.27" ry="1.7"/><ellipse cx="489.1" cy="741.1" rx="1.32" ry="1.17"/><ellipse cx="494.4" cy="743.2" rx="1.57" ry="2.15"/><ellipse cx="490.7" cy="747.8" rx="1.09" ry="1.41"/><ellipse cx="488.8" cy="749.9" rx="1.03" ry="1.04"/><ellipse cx="488.9" cy="753.4" rx="0.92" ry="0.75"/><ellipse cx="491.5" cy="755.0" rx="1.04" ry="1.04"/><ellipse cx="491.9" cy="758.2" rx="1.11" ry="1.55"/><ellipse cx="493.0" cy="761.3" rx="1.57" ry="1.51"/><ellipse cx="487.3" cy="764.7" rx="1.38" ry="1.21"/><ellipse cx="490.1" cy="768.8" rx="1.51" ry="1.44"/><ellipse cx="487.9" cy="771.4" rx="1.52" ry="1.85"/><ellipse cx="487.4" cy="774.7" rx="0.66" ry="0.69"/><ellipse cx="487.1" cy="777.6" rx="1.54" ry="1.97"/><ellipse cx="487.1" cy="779.5" rx="1.46" ry="1.92"/><ellipse cx="489.7" cy="783.6" rx="0.94" ry="1.27"/><ellipse cx="488.2" cy="786.6" rx="0.73" ry="0.69"/><ellipse cx="486.9" cy="788.7" rx="0.76" ry="0.7"/><ellipse cx="488.3" cy="793.1" rx="0.91" ry="0.88"/><ellipse cx="489.6" cy="795.3" rx="0.78" ry="0.63"/><ellipse cx="487.7" cy="799.2" rx="0.62" ry="0.7"/><ellipse cx="487.1" cy="802.6" rx="1.07" ry="0.93"/><ellipse cx="491.7" cy="804.8" rx="1.03" ry="1.34"/><ellipse cx="488.4" cy="808.2" rx="1.11" ry="1.54"/><ellipse cx="487.9" cy="811.3" rx="1.43" ry="1.69"/><ellipse cx="488.3" cy="813.1" rx="0.95" ry="0.83"/><ellipse cx="485.6" cy="816.5" rx="1.34" ry="1.2"/><ellipse cx="485.6" cy="820.8" rx="1.44" ry="1.73"/><ellipse cx="487.0" cy="822.7" rx="0.84" ry="0.91"/><ellipse cx="485.9" cy="825.7" rx="1.05" ry="1.44"/><ellipse cx="491.9" cy="828.7" rx="1.15" ry="1.58"/><ellipse cx="486.9" cy="831.3" rx="0.96" ry="0.98"/><ellipse cx="488.0" cy="834.7" rx="1.1" ry="1.22"/><ellipse cx="484.4" cy="837.5" rx="0.86" ry="0.9"/><ellipse cx="484.5" cy="841.0" rx="0.62" ry="0.58"/><ellipse cx="488.5" cy="845.0" rx="1.13" ry="1.35"/><ellipse cx="489.3" cy="847.3" rx="1.48" ry="1.47"/><ellipse cx="491.2" cy="851.0" rx="0.75" ry="0.89"/><ellipse cx="484.1" cy="854.4" rx="1.44" ry="1.69"/><ellipse cx="489.1" cy="855.9" rx="1.41" ry="1.57"/><ellipse cx="487.3" cy="860.3" rx="1.43" ry="1.86"/><ellipse cx="487.8" cy="863.1" rx="1.49" ry="1.82"/><ellipse cx="485.0" cy="865.1" rx="0.63" ry="0.64"/><ellipse cx="484.0" cy="869.0" rx="1.44" ry="1.69"/><ellipse cx="487.8" cy="871.9" rx="1.28" ry="1.03"/><ellipse cx="488.9" cy="875.0" rx="1.35" ry="1.51"/></g>
<g fill="#c9d5ee" opacity="0.9"><ellipse cx="500" cy="567" rx="2.5" ry="3"/><ellipse cx="497" cy="572" rx="1.5" ry="1.5"/><ellipse cx="502" cy="575" rx="1" ry="1"/></g>
<g fill="#6f86bd" opacity="0.9"><ellipse cx="434.5" cy="562.4" rx="2" ry="2"/><ellipse cx="460" cy="875" rx="3" ry="3"/></g>
</g>
<clipPath id="clip3"><rect x="587.3" y="509.2" width="160.50" height="368.90"/></clipPath>
<g clip-path="url(#clip3)">
<rect x="587.3" y="509.2" width="160.50" height="368.90" fill="#a4b6d8"/>
<line x1="667" y1="510" x2="664" y2="878" stroke="#8ea3ce" stroke-width="1" opacity="0.35" stroke-dasharray="3 5"/>
<g fill="#5e78b3"><ellipse cx="617.5" cy="570.5" rx="2" ry="2"/><ellipse cx="667.5" cy="574" rx="2.5" ry="2.5"/><ellipse cx="669.5" cy="612" rx="1" ry="3"/><ellipse cx="740" cy="725.5" rx="1.5" ry="1.5"/><ellipse cx="665" cy="810" rx="2" ry="2" opacity="0.4"/></g>
</g>
<rect x="166.5" y="862.5" width="48.80" height="5.3" fill="#fff"/>
<rect x="338.6" y="862.5" width="48.90" height="5.3" fill="#fff"/>
<rect x="511.0" y="862.5" width="48.00" height="5.3" fill="#fff"/>
<rect x="683.0" y="862.5" width="48.00" height="5.3" fill="#fff"/>
<text x="78.70" y="542.00" font-size="25" text-anchor="start" fill="#fff" font-weight="normal" >0 h</text>
<text x="249.10" y="541.00" font-size="25" text-anchor="start" fill="#fff" font-weight="normal" > 2 h</text>
<text x="423.50" y="540.00" font-size="25" text-anchor="start" fill="#fff" font-weight="normal" >24 h</text>
<text x="596.90" y="542.00" font-size="25" text-anchor="start" fill="#fff" font-weight="normal" >48 h</text>
<path d="M888.00,821.00 L890.00,818.50 L895.20,814.51 L897.20,812.32 L899.20,810.13 L901.20,807.94 L903.20,805.75 L905.20,803.56 L907.20,801.38 L909.20,799.20 L911.20,797.02 L913.20,794.86 L915.20,792.70 L917.20,790.55 L919.20,788.42 L921.20,786.29 L923.20,784.18 L925.20,782.09 L927.20,780.01 L929.20,777.95 L931.20,775.90 L933.20,773.88 L935.20,771.88 L937.20,769.90 L939.20,767.94 L941.20,766.01 L943.20,764.10 L945.20,762.22 L947.20,760.37 L949.20,758.55 L951.20,756.76 L953.20,755.00 L955.20,753.27 L957.20,751.58 L959.20,749.92 L961.20,748.29 L963.20,746.70 L965.20,745.13 L967.20,743.60 L969.20,742.10 L971.20,740.63 L973.20,739.18 L975.20,737.77 L977.20,736.39 L979.20,735.05 L981.20,733.72 L983.20,732.43 L985.20,731.17 L987.20,729.94 L989.20,728.74 L991.20,727.56 L993.20,726.41 L995.20,725.29 L997.20,724.20 L999.20,723.14 L1001.20,722.10 L1003.20,721.09 L1005.20,720.11 L1007.20,719.15 L1009.20,718.22 L1011.20,717.31 L1013.20,716.43 L1015.20,715.56 L1017.20,714.73 L1019.20,713.91 L1021.20,713.11 L1023.20,712.34 L1025.20,711.58 L1027.20,710.85 L1029.20,710.13 L1031.20,709.43 L1033.20,708.75 L1035.20,708.08 L1037.20,707.43 L1039.20,706.79 L1041.20,706.16 L1043.20,705.55 L1045.20,704.96 L1047.20,704.37 L1049.20,703.80 L1051.20,703.23 L1053.20,702.68 L1055.20,702.13 L1057.20,701.59 L1059.20,701.06 L1061.20,700.54 L1063.20,700.02 L1065.20,699.51 L1067.20,699.01 L1069.20,698.51 L1071.20,698.01 L1073.20,697.51 L1075.20,697.02 L1077.20,696.52 L1079.20,696.03 L1081.20,695.54 L1083.20,695.04 L1085.20,694.55 L1087.20,694.05 L1089.20,693.55 L1091.20,693.05 L1093.20,692.54 L1095.20,692.03 L1097.20,691.51 L1099.20,690.98 L1101.20,690.45 L1103.20,689.91 L1105.20,689.36 L1107.20,688.80 L1109.20,688.23 L1111.20,687.65 L1113.20,687.06 L1115.20,686.46 L1117.20,685.85 L1119.20,685.23 L1121.20,684.60 L1123.20,683.97 L1125.20,683.32 L1127.20,682.66 L1129.20,681.99 L1131.20,681.32 L1133.20,680.64 L1135.20,679.94 L1137.20,679.24 L1139.20,678.53 L1141.20,677.81 L1143.20,677.08 L1145.20,676.35 L1147.20,675.60 L1149.20,674.85 L1151.20,674.09 L1153.20,673.32 L1155.20,672.55 L1157.20,671.76 L1159.20,670.97 L1161.20,670.17 L1163.20,669.37 L1165.20,668.55 L1167.20,667.73 L1169.20,666.90 L1171.20,666.07 L1173.20,665.23 L1175.20,664.38 L1177.20,663.52 L1179.20,662.66 L1181.20,661.79 L1183.20,660.92 L1185.20,660.04 L1187.20,659.15 L1189.20,658.26 L1191.20,657.36 L1193.20,656.46 L1195.20,655.55 L1197.20,654.63 L1199.20,653.71 L1201.20,652.78 L1203.20,651.85 L1205.20,650.91 L1207.20,649.97 L1209.20,649.03 L1211.20,648.07 L1213.20,647.12 L1215.20,646.16 L1217.20,645.19 L1219.20,644.22 L1221.20,643.25 L1223.20,642.27 L1225.20,641.28 L1227.20,640.30 L1229.20,639.31 L1231.20,638.31 L1233.20,637.31 L1235.20,636.31 L1237.20,635.31 L1239.20,634.30 L1241.20,633.29 L1243.20,632.27 L1245.20,631.26 L1247.20,630.24 L1249.20,629.21 L1251.20,628.19 L1253.20,627.16 L1255.20,626.13 L1257.20,625.09 L1259.20,624.06 L1261.20,623.02 L1263.20,621.98 L1265.20,620.94 L1267.20,619.89 L1269.20,618.85 L1271.20,617.80 L1273.20,616.75 L1275.20,615.70 L1277.20,614.65 L1279.20,613.60 L1281.20,612.54 L1283.20,611.49 L1285.20,610.43 L1287.20,609.38 L1289.20,608.32 L1291.20,607.26 L1293.20,606.20 L1295.20,605.14 L1297.20,604.08 L1299.20,603.03 L1301.20,601.97 L1303.20,600.91 L1305.20,599.85 L1307.20,598.79 L1309.20,597.73 L1311.20,596.67 L1313.20,595.62 L1315.20,594.56 L1317.20,593.51 L1319.20,592.45 L1321.20,591.40 L1323.20,590.35 L1325.20,589.29 L1327.20,588.24 L1329.20,587.20 L1331.20,586.15 L1333.20,585.10" fill="none" stroke="#ff0000" stroke-width="3.4" stroke-linejoin="round" stroke-linecap="round"/>
<path d="M888.00,829.60 L890.50,821.00 L894.30,811.11 L896.30,808.75 L898.31,806.43 L900.31,804.14 L902.32,801.88 L904.32,799.66 L906.32,797.47 L908.33,795.30 L910.33,793.17 L912.34,791.07 L914.34,789.00 L916.35,786.96 L918.35,784.95 L920.35,782.97 L922.36,781.02 L924.36,779.09 L926.37,777.20 L928.37,775.33 L930.37,773.49 L932.38,771.68 L934.38,769.89 L936.39,768.13 L938.39,766.40 L940.39,764.69 L942.40,763.01 L944.40,761.36 L946.41,759.73 L948.41,758.12 L950.42,756.54 L952.42,754.99 L954.42,753.45 L956.43,751.94 L958.43,750.46 L960.44,748.99 L962.44,747.55 L964.44,746.13 L966.45,744.74 L968.45,743.36 L970.46,742.01 L972.46,740.67 L974.46,739.36 L976.47,738.07 L978.47,736.80 L980.48,735.54 L982.48,734.31 L984.48,733.10 L986.49,731.90 L988.49,730.72 L990.50,729.56 L992.50,728.42 L994.51,727.29 L996.51,726.19 L998.51,725.10 L1000.52,724.02 L1002.52,722.96 L1004.53,721.92 L1006.53,720.89 L1008.53,719.88 L1010.54,718.88 L1012.54,717.89 L1014.55,716.92 L1016.55,715.97 L1018.55,715.02 L1020.56,714.09 L1022.56,713.17 L1024.57,712.27 L1026.57,711.37 L1028.58,710.49 L1030.58,709.61 L1032.58,708.75 L1034.59,707.89 L1036.59,707.05 L1038.60,706.22 L1040.60,705.39 L1042.60,704.57 L1044.61,703.76 L1046.61,702.96 L1048.62,702.17 L1050.62,701.38 L1052.62,700.60 L1054.63,699.82 L1056.63,699.05 L1058.64,698.29 L1060.64,697.53 L1062.65,696.78 L1064.65,696.03 L1066.65,695.29 L1068.66,694.56 L1070.66,693.83 L1072.67,693.11 L1074.67,692.39 L1076.67,691.68 L1078.68,690.97 L1080.68,690.27 L1082.69,689.57 L1084.69,688.88 L1086.69,688.20 L1088.70,687.52 L1090.70,686.85 L1092.71,686.18 L1094.71,685.52 L1096.72,684.86 L1098.72,684.21 L1100.72,683.56 L1102.73,682.91 L1104.73,682.27 L1106.74,681.63 L1108.74,680.99 L1110.74,680.35 L1112.75,679.71 L1114.75,679.08 L1116.76,678.44 L1118.76,677.80 L1120.76,677.16 L1122.77,676.52 L1124.77,675.88 L1126.78,675.23 L1128.78,674.58 L1130.78,673.92 L1132.79,673.26 L1134.79,672.60 L1136.80,671.93 L1138.80,671.25 L1140.81,670.57 L1142.81,669.88 L1144.81,669.18 L1146.82,668.47 L1148.82,667.75 L1150.83,667.03 L1152.83,666.29 L1154.83,665.54 L1156.84,664.79 L1158.84,664.02 L1160.85,663.23 L1162.85,662.44 L1164.85,661.63 L1166.86,660.81 L1168.86,659.97 L1170.87,659.12 L1172.87,658.26 L1174.88,657.37 L1176.88,656.47 L1178.88,655.56 L1180.89,654.62 L1182.89,653.67 L1184.90,652.70 L1186.90,651.71 L1188.90,650.70 L1190.91,649.67 L1192.91,648.62 L1194.92,647.55 L1196.92,646.45 L1198.92,645.33 L1200.93,644.19 L1202.93,643.03 L1204.94,641.85 L1206.94,640.65 L1208.95,639.42 L1210.95,638.18 L1212.95,636.92 L1214.96,635.64 L1216.96,634.35 L1218.97,633.04 L1220.97,631.71 L1222.97,630.37 L1224.98,629.02 L1226.98,627.65 L1228.99,626.27 L1230.99,624.88 L1232.99,623.48 L1235.00,622.07 L1237.00,620.64 L1239.01,619.21 L1241.01,617.77 L1243.02,616.33 L1245.02,614.88 L1247.02,613.42 L1249.03,611.95 L1251.03,610.49 L1253.04,609.01 L1255.04,607.54 L1257.04,606.06 L1259.05,604.59 L1261.05,603.11 L1263.06,601.63 L1265.06,600.15 L1267.06,598.67 L1269.07,597.20 L1271.07,595.73 L1273.08,594.26 L1275.08,592.80 L1277.08,591.34 L1279.09,589.89 L1281.09,588.45 L1283.10,587.01 L1285.10,585.58 L1287.11,584.16 L1289.11,582.75 L1291.11,581.34 L1293.12,579.95 L1295.12,578.58 L1297.13,577.21 L1299.13,575.86 L1301.13,574.52 L1303.14,573.20 L1305.14,571.89 L1307.15,570.60 L1309.15,569.32 L1311.15,568.06 L1313.16,566.82 L1315.16,565.60 L1317.17,564.40 L1319.17,563.22 L1321.18,562.06 L1323.18,560.93 L1325.18,559.81 L1327.19,558.72 L1329.19,557.65 L1331.20,556.61 L1333.20,555.60" fill="none" stroke="#800080" stroke-width="3.4" stroke-linejoin="round" stroke-linecap="round"/>
<rect x="888.00" y="518.60" width="446.00" height="311.00" fill="none" stroke="#000" stroke-width="2.0"/>
<line x1="881.00" y1="829.60" x2="888.00" y2="829.60" stroke="#000" stroke-width="2" />
<text x="871.50" y="837.60" font-size="25" text-anchor="end" fill="#000" font-weight="normal" >0</text>
<line x1="884.00" y1="807.39" x2="888.00" y2="807.39" stroke="#000" stroke-width="2" />
<line x1="881.00" y1="785.17" x2="888.00" y2="785.17" stroke="#000" stroke-width="2" />
<text x="871.50" y="793.17" font-size="25" text-anchor="end" fill="#000" font-weight="normal" > </text>
<line x1="884.00" y1="762.96" x2="888.00" y2="762.96" stroke="#000" stroke-width="2" />
<line x1="881.00" y1="740.74" x2="888.00" y2="740.74" stroke="#000" stroke-width="2" />
<text x="871.50" y="748.74" font-size="25" text-anchor="end" fill="#000" font-weight="normal" >2</text>
<line x1="884.00" y1="718.53" x2="888.00" y2="718.53" stroke="#000" stroke-width="2" />
<line x1="881.00" y1="696.31" x2="888.00" y2="696.31" stroke="#000" stroke-width="2" />
<text x="871.50" y="704.31" font-size="25" text-anchor="end" fill="#000" font-weight="normal" >3</text>
<line x1="884.00" y1="674.10" x2="888.00" y2="674.10" stroke="#000" stroke-width="2" />
<line x1="881.00" y1="651.89" x2="888.00" y2="651.89" stroke="#000" stroke-width="2" />
<text x="871.50" y="659.89" font-size="25" text-anchor="end" fill="#000" font-weight="normal" >4</text>
<line x1="884.00" y1="629.67" x2="888.00" y2="629.67" stroke="#000" stroke-width="2" />
<line x1="881.00" y1="607.46" x2="888.00" y2="607.46" stroke="#000" stroke-width="2" />
<text x="871.50" y="615.46" font-size="25" text-anchor="end" fill="#000" font-weight="normal" >5</text>
<line x1="884.00" y1="585.24" x2="888.00" y2="585.24" stroke="#000" stroke-width="2" />
<line x1="881.00" y1="563.03" x2="888.00" y2="563.03" stroke="#000" stroke-width="2" />
<text x="871.50" y="571.03" font-size="25" text-anchor="end" fill="#000" font-weight="normal" >6</text>
<line x1="884.00" y1="540.81" x2="888.00" y2="540.81" stroke="#000" stroke-width="2" />
<line x1="881.00" y1="518.60" x2="888.00" y2="518.60" stroke="#000" stroke-width="2" />
<text x="871.50" y="526.60" font-size="25" text-anchor="end" fill="#000" font-weight="normal" >7</text>
<line x1="888.00" y1="829.60" x2="888.00" y2="836.10" stroke="#000" stroke-width="2" />
<text x="888.00" y="866.80" font-size="25" text-anchor="middle" fill="#000" font-weight="normal" >0</text>
<line x1="932.60" y1="829.60" x2="932.60" y2="833.10" stroke="#000" stroke-width="2" />
<line x1="977.20" y1="829.60" x2="977.20" y2="836.10" stroke="#000" stroke-width="2" />
<text x="977.20" y="866.80" font-size="25" text-anchor="middle" fill="#000" font-weight="normal" >2000</text>
<line x1="1021.80" y1="829.60" x2="1021.80" y2="833.10" stroke="#000" stroke-width="2" />
<line x1="1066.40" y1="829.60" x2="1066.40" y2="836.10" stroke="#000" stroke-width="2" />
<text x="1066.40" y="866.80" font-size="25" text-anchor="middle" fill="#000" font-weight="normal" >4000</text>
<line x1="1111.00" y1="829.60" x2="1111.00" y2="833.10" stroke="#000" stroke-width="2" />
<line x1="1155.60" y1="829.60" x2="1155.60" y2="836.10" stroke="#000" stroke-width="2" />
<text x="1155.60" y="866.80" font-size="25" text-anchor="middle" fill="#000" font-weight="normal" >6000</text>
<line x1="1200.20" y1="829.60" x2="1200.20" y2="833.10" stroke="#000" stroke-width="2" />
<line x1="1244.80" y1="829.60" x2="1244.80" y2="836.10" stroke="#000" stroke-width="2" />
<text x="1244.80" y="866.80" font-size="25" text-anchor="middle" fill="#000" font-weight="normal" >8000</text>
<line x1="1289.40" y1="829.60" x2="1289.40" y2="833.10" stroke="#000" stroke-width="2" />
<line x1="1334.00" y1="829.60" x2="1334.00" y2="836.10" stroke="#000" stroke-width="2" />
<text x="1334.00" y="866.80" font-size="25" text-anchor="middle" fill="#000" font-weight="normal" > 0,000</text>
<text x="1052.40" y="910.30" font-size="25" text-anchor="start" fill="#000" font-weight="normal" >Strain (%)</text>
<text transform="translate(828.5,749.7) rotate(-90)" font-size="25">Stress (MPa)</text>
<line x1="1068.60" y1="756.60" x2="1094.40" y2="756.60" stroke="#ff0000" stroke-width="3" />
<line x1="1068.60" y1="795.60" x2="1094.40" y2="795.60" stroke="#800080" stroke-width="3" />
<text x="1105.90" y="765.00" font-size="20.9" text-anchor="start" fill="#ff0000" font-weight="normal" >Original sample</text>
<text x="1106.90" y="802.00" font-size="20.9" text-anchor="start" fill="#800080" font-weight="normal" >After 48 h self-healing</text>
<path d="M515,0L515,1237L197,1010L197,1180L530,1409L696,1409L696,0Z" transform="translate(44.19,113.00) scale(0.012207,-0.012207)" fill="#000"/>
<path d="M515,0L515,1237L197,1010L197,1180L530,1409L696,1409L696,0Z" transform="translate(44.19,61.00) scale(0.012207,-0.012207)" fill="#000"/>
<path d="M515,0L515,1237L197,1010L197,1180L530,1409L696,1409L696,0Z" transform="translate(496.97,401.00) scale(0.012207,-0.012207)" fill="#000"/>
<path d="M515,0L515,1237L197,1010L197,1180L530,1409L696,1409L696,0Z" transform="translate(181.13,82.00) scale(0.008301,-0.008301)" fill="#008080"/>
<path d="M515,0L515,1237L197,1010L197,1180L530,1409L696,1409L696,0Z" transform="translate(124.64,140.00) scale(0.012207,-0.012207)" fill="#0a93d8"/>
<path d="M515,0L515,1237L197,1010L197,1180L530,1409L696,1409L696,0Z" transform="translate(181.13,127.00) scale(0.008301,-0.008301)" fill="#0a93d8"/>
<path d="M515,0L515,1237L197,1010L197,1180L530,1409L696,1409L696,0Z" transform="translate(124.64,188.00) scale(0.012207,-0.012207)" fill="#0000ff"/>
<path d="M515,0L515,1237L197,1010L197,1180L530,1409L696,1409L696,0Z" transform="translate(181.13,174.00) scale(0.008301,-0.008301)" fill="#0000ff"/>
<path d="M515,0L515,1237L197,1010L197,1180L530,1409L696,1409L696,0Z" transform="translate(181.13,219.00) scale(0.008301,-0.008301)" fill="#8000ff"/>
<path d="M515,0L515,1237L197,1010L197,1180L530,1409L696,1409L696,0Z" transform="translate(755.42,401.00) scale(0.012207,-0.012207)" fill="#000"/>
<path d="M515,0L515,1237L197,1010L197,1180L530,1409L696,1409L696,0Z" transform="translate(1047.99,62.00) scale(0.012207,-0.012207)" fill="#000"/>
<path d="M515,0L515,1237L197,1010L197,1180L530,1409L696,1409L696,0Z" transform="translate(1058.49,215.00) scale(0.012207,-0.012207)" fill="#000"/>
<path d="M515,0L515,1237L197,1010L197,1180L530,1409L696,1409L696,0Z" transform="translate(1057.98,371.00) scale(0.012207,-0.012207)" fill="#000"/>
<path d="M515,0L515,1237L197,1010L197,1180L530,1409L696,1409L696,0Z" transform="translate(1192.96,402.00) scale(0.012207,-0.012207)" fill="#000"/>
<path d="M515,0L515,1237L197,1010L197,1180L530,1409L696,1409L696,0Z" transform="translate(1377.85,402.00) scale(0.012207,-0.012207)" fill="#000"/>
<path d="M515,0L515,1237L197,1010L197,1180L530,1409L696,1409L696,0Z" transform="translate(1300.22,437.00) scale(0.008057,-0.008057)" fill="#000"/>
<path d="M515,0L515,1237L197,1010L197,1180L530,1409L696,1409L696,0Z" transform="translate(249.10,541.00) scale(0.012207,-0.012207)" fill="#fff"/>
<path d="M515,0L515,1237L197,1010L197,1180L530,1409L696,1409L696,0Z" transform="translate(857.59,793.00) scale(0.012207,-0.012207)" fill="#000"/>
<path d="M515,0L515,1237L197,1010L197,1180L530,1409L696,1409L696,0Z" transform="translate(1295.77,867.00) scale(0.012207,-0.012207)" fill="#000"/>
</svg>
</body></html>
